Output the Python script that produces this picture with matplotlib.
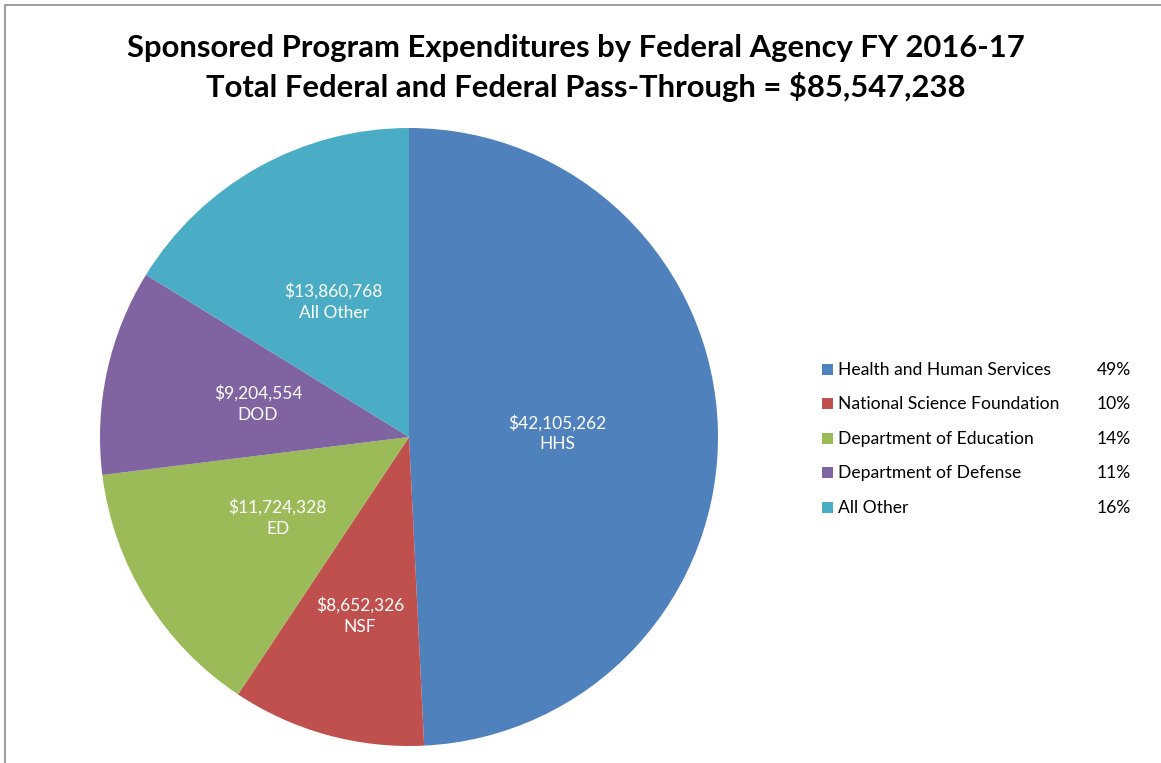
import numpy as np
import matplotlib
matplotlib.use("Agg")
import matplotlib.pyplot as plt
from matplotlib.patches import Rectangle

plt.rcParams['font.family'] = ['Lato', 'DejaVu Sans']

agencies = ['Health and Human Services', 'National Science Foundation',
            'Department of Education', 'Department of Defense', 'All Other']
short_names = ['HHS', 'NSF', 'ED', 'DOD', 'All Other']
amounts = [42105262, 8652326, 11724328, 9204554, 13860768]
colors = ['#4F81BD', '#C0504D', '#9BBB59', '#8064A2', '#4BACC6']

W, H = 1161, 763
fig = plt.figure(figsize=(W / 100, H / 100), dpi=100)

# frame (only top and left edges visible in the original crop)
fig.patches.append(Rectangle((5 / W, -0.1), 1.2, 1 - 5 / H + 0.1, transform=fig.transFigure,
                             fill=False, edgecolor='#8c8c8c', linewidth=1.2))

total = sum(amounts)
fig.text(576 / W, 1 - 48 / H, 'Sponsored Program Expenditures by Federal Agency FY 2016-17',
         ha='center', va='center', fontsize=22.3, fontweight='bold')
fig.text(586 / W, 1 - 87 / H, 'Total Federal and Federal Pass-Through = ${:,}'.format(total),
         ha='center', va='center', fontsize=22.3, fontweight='bold')

# pie axes
cx, cy, r = 409, 437, 309
ax = fig.add_axes([(cx - r) / W, 1 - (cy + r) / H, 2 * r / W, 2 * r / H])
wedges, _ = ax.pie(amounts, colors=colors, startangle=90, counterclock=False,
                   radius=1, wedgeprops=dict(linewidth=0))
ax.set_xlim(-1, 1)
ax.set_ylim(-1, 1)
ax.set_aspect('equal')
ax.axis('off')

label_r = [0.48, 0.6, 0.5, 0.5, 0.5]
for w, name, amt, lr in zip(wedges, short_names, amounts, label_r):
    ang = np.deg2rad((w.theta1 + w.theta2) / 2)
    ax.text(lr * np.cos(ang), lr * np.sin(ang), '${:,}\n{}'.format(amt, name),
            ha='center', va='center', color='white', fontsize=12.5, linespacing=1.4)

# legend with percentages
row_y = [369, 403, 438, 472, 507]
for name, amt, c, y in zip(agencies, amounts, colors, row_y):
    fig.patches.append(Rectangle((822 / W, 1 - (y + 6) / H), 11 / W, 11 / H,
                                 transform=fig.transFigure, facecolor=c, edgecolor='none'))
    fig.text(838 / W, 1 - (y + 1) / H, name, ha='left', va='center', fontsize=12.6)
    fig.text(1131 / W, 1 - (y + 1) / H, '{:.0f}%'.format(100 * amt / total),
             ha='right', va='center', fontsize=12.6)

fig.savefig('out.png', dpi=100)
